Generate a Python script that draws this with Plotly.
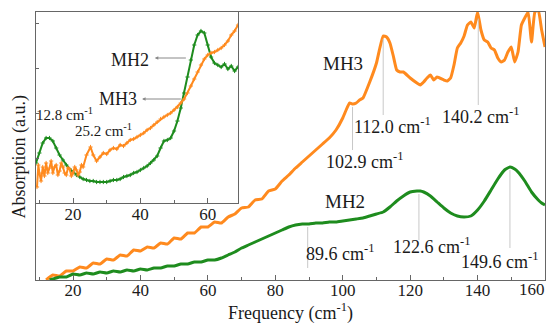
import plotly.graph_objects as go
import numpy as np

# ---------------- data ----------------
mh3_x = [12, 14, 16, 18, 20, 22, 24, 26, 28, 30, 32, 34, 36, 38, 40, 42, 44, 46, 48, 50,
         52, 54, 56, 58, 60, 62, 64, 66, 68, 70, 72, 74, 76, 78, 80, 82, 84, 86, 88, 90,
         92, 94, 96, 98, 100, 101, 102, 103, 104, 105, 106, 108, 110, 111, 112, 113, 114,
         115, 116, 117, 118, 120, 122, 123, 124, 125, 126, 127, 128, 130, 131, 132, 133,
         134, 135, 136, 137, 138, 139, 140, 141, 142, 143, 144, 145, 146, 147, 148, 149,
         150, 151, 152, 153, 154, 155, 156, 157, 158, 159, 160]
mh3_y = [0, 5, 4, 9, 9, 13, 12, 17, 16, 21, 20, 25, 24, 30, 29, 33, 32, 37, 36, 42,
         41, 47, 47, 53, 53, 58, 57, 63, 66, 72, 73, 80, 81, 89, 91, 99, 105, 112, 118, 124,
         130, 136, 142, 150, 162, 170, 177, 176, 177, 180, 182, 198, 217, 232, 244, 243, 237,
         224, 210, 208, 208, 202, 197, 195, 198, 202, 205, 200, 203, 200, 199, 202, 215,
         232, 237, 244, 255, 258, 252, 268, 250, 240, 238, 232, 230, 222, 218, 220, 228,
         233, 218, 228, 255, 262, 268, 238, 268, 270, 250, 233]

mh2_x = [13, 14, 16, 18, 20, 22, 24, 26, 28, 30, 32, 34, 36, 38, 40, 42, 44, 46, 48, 50,
         52, 54, 56, 58, 60, 62, 64, 66, 68, 70, 72, 74, 76, 78, 80, 82, 84, 86, 88, 90,
         92, 94, 96, 98, 100, 102, 104, 106, 108, 110, 112, 114, 116, 118, 120, 122, 123,
         124, 126, 128, 130, 132, 134, 136, 138, 140, 142, 144, 146, 148, 149.6, 151, 152,
         154, 156, 158, 159, 160]
mh2_y = [0, 1, 3, 3, 6, 5, 7, 6, 8, 7, 9, 8, 10, 9, 11, 10, 12, 12, 14, 14,
         16, 16, 18, 18, 20, 20, 22, 25, 28, 32, 35, 38, 41, 44, 47, 50, 53, 55, 56, 56,
         57, 57, 58, 58, 59, 60, 61, 62, 64, 66, 68, 73, 79, 84, 88, 89, 89,
         88, 84, 78, 72, 67, 64, 63, 64, 70, 79, 90, 101, 110, 113, 111, 108,
         99, 88, 80, 77, 75]

in2_x = list(range(9, 70))
in2_y = [40, 50, 60, 65, 65, 62, 55, 48, 43, 38, 34, 31, 28, 26, 24, 23, 22, 22, 21, 21,
         21, 21, 22, 23, 23, 24, 26, 27, 28, 30, 31, 33, 35, 37, 40, 43, 47, 55, 62, 63,
         65, 72, 82, 95, 110, 126, 143, 158, 168, 172, 170, 158, 146, 140, 138, 136, 139,
         134, 137, 132, 136]

in3_x = [9.3, 9.7, 10, 10.5, 11, 11.5, 12, 12.5, 13, 13.5, 14, 14.5, 15, 15.5, 16, 16.5,
         17, 17.5, 18, 18.5, 19, 19.5, 20, 20.5, 21, 21.5, 22, 22.5, 23, 24, 25.2, 26, 27,
         28, 29, 30, 31, 32, 33, 34, 35, 36, 37, 38, 39, 40, 41, 42, 43, 44, 45, 46, 47,
         48, 49, 50, 51, 52, 53, 54, 55, 56, 57, 58, 59, 60, 61, 62, 63, 64, 65, 66, 67,
         68, 69]
in3_y = [16, 38, 30, 22, 36, 27, 40, 30, 35, 42, 30, 36, 38, 28, 32, 40, 36, 30, 28, 35,
         34, 27, 30, 36, 33, 28, 31, 38, 36, 48, 56, 48, 42, 46, 50, 49, 53, 55, 54, 58,
         57, 60, 63, 64, 66, 68, 70, 73, 75, 78, 81, 84, 86, 88, 90, 93, 96, 100, 104, 110,
         117, 124, 131, 138, 144, 148, 150, 151, 153, 155, 158, 162, 168, 172, 178]

peaks_mh3 = [102.9, 112.0, 140.2]
peaks_mh2 = [89.6, 122.6, 149.6]
peaks_inset = [12.8, 25.2]

main_ticks = [20, 40, 60, 80, 100, 120, 140, 160]
inset_ticks = [20, 40, 60]

ORANGE = "#FF8A1E"
GREEN = "#1E8C1E"
AXC = "#666666"
GREY = "#C8C8C8"
FONT = "Liberation Serif, Times New Roman, serif"
TXT = "#1a1a1a"

fig = go.Figure()
fig.add_trace(go.Scatter(x=mh3_x, y=mh3_y, mode="lines",
                         line=dict(color=ORANGE, width=3, shape="spline", smoothing=0.4),
                         xaxis="x", yaxis="y", showlegend=False))
fig.add_trace(go.Scatter(x=mh2_x, y=mh2_y, mode="lines",
                         line=dict(color=GREEN, width=3, shape="spline", smoothing=0.4),
                         xaxis="x", yaxis="y", showlegend=False))
fig.add_trace(go.Scatter(x=in2_x, y=in2_y, mode="lines+markers",
                         line=dict(color=GREEN, width=2),
                         marker=dict(color=GREEN, size=3, symbol="cross-thin",
                                     line=dict(color=GREEN, width=1)),
                         xaxis="x2", yaxis="y2", showlegend=False))
fig.add_trace(go.Scatter(x=in3_x, y=in3_y, mode="lines+markers",
                         line=dict(color=ORANGE, width=2),
                         marker=dict(color=ORANGE, size=3, symbol="cross-thin",
                                     line=dict(color=ORANGE, width=1)),
                         xaxis="x2", yaxis="y2", showlegend=False))

def yat(xs, ys, x0):
    return float(np.interp(x0, xs, ys))

shapes = []
main_line_ends = {102.9: 130, 112.0: 165, 140.2: 175, 89.6: 12, 122.6: 40, 149.6: 32}
for p in peaks_mh3:
    shapes.append(dict(type="line", xref="x", yref="y", x0=p, x1=p,
                       y0=yat(mh3_x, mh3_y, p) - 3, y1=main_line_ends[p],
                       line=dict(color=GREY, width=1)))
for p in peaks_mh2:
    shapes.append(dict(type="line", xref="x", yref="y", x0=p, x1=p,
                       y0=yat(mh2_x, mh2_y, p) - 3, y1=main_line_ends[p],
                       line=dict(color=GREY, width=1)))

sup = "cm<sup>-1</sup>"
ann = []
def label(text, x, y, xref="x", yref="y", size=18, xanchor="center"):
    ann.append(dict(text=text, x=x, y=y, xref=xref, yref=yref, showarrow=False,
                    xanchor=xanchor, yanchor="middle",
                    font=dict(family=FONT, size=size, color=TXT)))

label("MH3", 100.1, 217, size=19)
label("112.0 " + sup, 102.6, 155, xanchor="left")
label("102.9 " + sup, 106.6, 120)
label("140.2 " + sup, 141.0, 165)
label("MH2", 100.7, 79, size=19)
label("89.6 " + sup, 99.2, 28)
label("122.6 " + sup, 126.5, 35)
label("149.6 " + sup, 146.7, 20)

label("MH2", 36.9, 143, "x2", "y2", size=18)
label("MH3", 33.3, 104, "x2", "y2", size=18)
label("12.8 " + sup, 17.6, 89, "x2", "y2", size=15)
label("25.2 " + sup, 28.9, 73, "x2", "y2", size=15)

def arrow(x, y, axx, ayy):
    ann.append(dict(text=" ", x=x, y=y, ax=axx, ay=ayy, xref="x2", yref="y2",
                    axref="x2", ayref="y2", showarrow=True, arrowhead=2,
                    arrowsize=0.7, arrowwidth=1, arrowcolor="#888888", standoff=0,
                    startstandoff=0))

arrow(44.3, 145, 54.7, 145)
arrow(40.5, 104, 53.2, 104)
arrow(peaks_inset[0], yat(in2_x, in2_y, peaks_inset[0]) + 3,
      peaks_inset[0], yat(in2_x, in2_y, peaks_inset[0]) + 14)
arrow(peaks_inset[1], yat(in3_x, in3_y, peaks_inset[1]) + 3,
      peaks_inset[1], yat(in3_x, in3_y, peaks_inset[1]) + 10)

ann.append(dict(text="Absorption (a.u.)", x=-0.032, y=0.46, xref="paper", yref="paper",
                textangle=-90, showarrow=False, xanchor="center", yanchor="middle",
                font=dict(family=FONT, size=18, color=TXT)))

# the last main tick label is drawn right-aligned at its tick so it stays inside the page
main_ticktext = [str(t) for t in main_ticks]
main_ticktext[-1] = ""
ann.append(dict(text=str(main_ticks[-1]), x=main_ticks[-1], y=-0.037, xref="x",
                yref="paper", showarrow=False, xanchor="right", yanchor="middle",
                xshift=2, font=dict(family=FONT, size=17, color=TXT)))

inset_right = (238 - 36) / 509
inset_bottom = (280 - 203) / 268

axis_common = dict(showline=True, linecolor=AXC, linewidth=1, mirror=True,
                   ticks="inside", ticklen=5, tickcolor=AXC, showgrid=False,
                   zeroline=False, automargin=False)

# page body has an 8px default margin, so the figure is sized/offset to compensate
fig.update_layout(
    width=547, height=318,
    margin=dict(l=28, r=10, t=4, b=46),
    paper_bgcolor="white", plot_bgcolor="white",
    font=dict(family=FONT, size=18, color=TXT),
    xaxis=dict(domain=[0, 1], range=[9, 160], tickvals=main_ticks, ticktext=main_ticktext,
               minor=dict(dtick=10, tick0=0, ticks="inside", ticklen=3, tickcolor=AXC),
               tickfont=dict(family=FONT, size=17, color=TXT),
               ticklabeloverflow="allow", ticklabelstandoff=-5,
               title=dict(text="Frequency (cm<sup>-1</sup>)", standoff=2,
                          font=dict(family=FONT, size=18, color=TXT)),
               **axis_common),
    yaxis=dict(domain=[0, 1], range=[0, 268], showticklabels=False,
               **{k: v for k, v in axis_common.items() if k != "ticks"}, ticks=""),
    xaxis2=dict(domain=[0, inset_right], range=[9, 69], tickvals=inset_ticks,
                anchor="y2", ticklabelstandoff=-4,
                minor=dict(dtick=10, tick0=0, ticks="inside", ticklen=3, tickcolor=AXC),
                tickfont=dict(family=FONT, size=17, color=TXT),
                **axis_common),
    yaxis2=dict(domain=[inset_bottom, 1], range=[0, 191], anchor="x2",
                showticklabels=False, dtick=45,
                **{k: v for k, v in axis_common.items() if k != "ticklen"}, ticklen=3),
    shapes=shapes,
    annotations=ann,
)

fig.write_html("out.html")
